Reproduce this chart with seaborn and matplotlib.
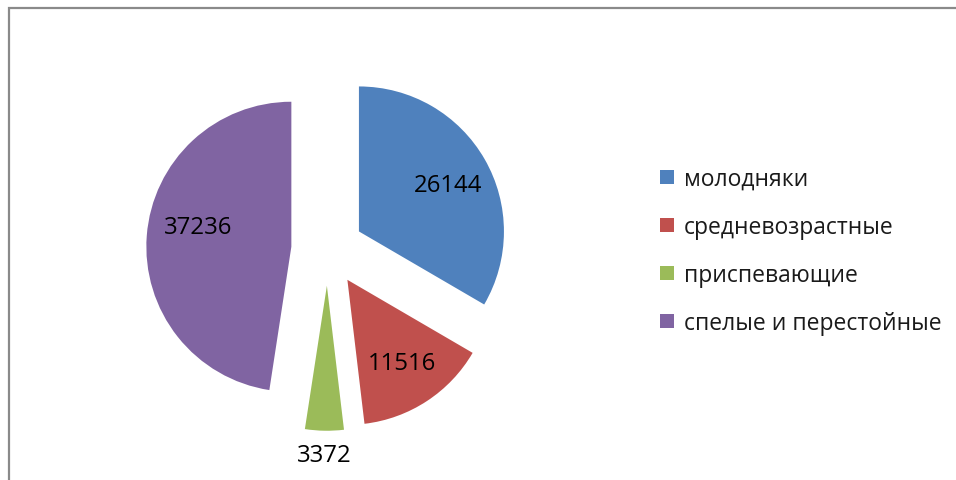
import numpy as np
import matplotlib
matplotlib.use("Agg")
import matplotlib.pyplot as plt
from matplotlib.patches import Patch, Rectangle
import seaborn as sns

sns.set_theme(style="white")
plt.rcParams["font.family"] = ["Open Sans", "DejaVu Sans"]

# Forest stand age groups
categories = ["молодняки", "средневозрастные", "приспевающие", "спелые и перестойные"]
values = [26144, 11516, 3372, 37236]
colors = ["#4F81BD", "#C0504D", "#9BBB59", "#8064A2"]
label_dist = [0.69, 0.69, 1.17, 0.66]
label_turn = [-2.5, 0.0, 0.0, -7.5]   # degrees, nudges along the wedge arc

W, H, DPI = 956, 481, 100
fig = plt.figure(figsize=(W / DPI, H / DPI), dpi=DPI)

# pie scale: 145 px per unit radius, centre at (327.5, 250.5) px from top-left
scale = 145.0
cx, cy = 327.5, 250.5
half_w = 2.0
ax = fig.add_axes([(cx - half_w * scale) / W, 0, 2 * half_w * scale / W, 1])

wedges, _ = ax.pie(values, colors=colors, startangle=90, counterclock=False,
                   explode=[0.25] * len(values), radius=1,
                   wedgeprops=dict(linewidth=0))

ax.set_aspect("auto")
ax.set_xlim(-half_w, half_w)
ax.set_ylim(-(H - cy) / scale, cy / scale)
ax.axis("off")

for w, v, d, t in zip(wedges, values, label_dist, label_turn):
    mid = np.deg2rad((w.theta1 + w.theta2) / 2 + t)
    x0, y0 = w.center
    ax.text(x0 + d * np.cos(mid), y0 + d * np.sin(mid), f"{v}",
            ha="center", va="center", fontsize=17.3, color="#000000")

handles = [Patch(facecolor=c, edgecolor="none") for c in colors]
leg = fig.legend(handles, categories, loc="upper left",
                 bbox_to_anchor=(660 / W, 1 - 168 / H),
                 frameon=False, fontsize=16.5, handlelength=0.6,
                 handleheight=0.6, handletextpad=0.45, labelspacing=1.05,
                 borderaxespad=0, borderpad=0)
for t in leg.get_texts():
    t.set_color("#1a1a1a")

# chart border
fig.add_artist(Rectangle((8.5 / W, -0.1), 1.0, (H - 9) / H + 0.1,
                         transform=fig.transFigure, fill=False,
                         edgecolor="#8a8a8a", linewidth=1.6))

fig.savefig("out.png", dpi=DPI)
